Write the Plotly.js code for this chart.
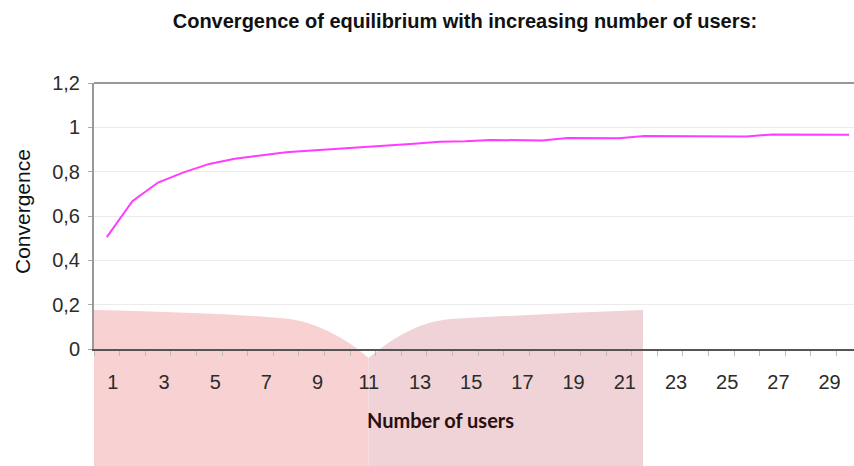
<!DOCTYPE html>
<html>
<head>
<meta charset="utf-8">
<script src="https://cdn.plot.ly/plotly-3.0.1.min.js"></script>
<style>html,body{margin:0;padding:0;background:#fff;}#chart{width:854px;height:466px;}</style>
</head>
<body>
<div id="chart"></div>
<script>
// ---- data ----
const users = ['1','2','3','4','5','6','7','8','9','10','11','12','13','14','15','16','17','18','19','20','21','22','23','24','25','26','27','28','29','30'];
const convergence = [0.505,0.667,0.751,0.797,0.835,0.858,0.873,0.888,0.896,0.903,0.911,0.919,0.926,0.935,0.937,0.943,0.943,0.941,0.952,0.952,0.951,0.961,0.960,0.960,0.959,0.959,0.968,0.968,0.968,0.967];
const xTickLabels = ['1','','3','','5','','7','','9','','11','','13','','15','','17','','19','','21','','23','','25','','27','','29',''];
const yTicks = [0,0.2,0.4,0.6,0.8,1,1.2];

// ---- layout geometry (pixels) ----
const W = 854, H = 466, L = 94, T = 83, B = 349;
const plotW = W - L, plotH = B - T;
const px = x => ((x - L) / plotW).toFixed(4);
const py = y => ((B - y) / plotH).toFixed(4);
const P = (x, y) => px(x) + ',' + py(y);

const leftBlob = 'M' + P(94,466) + ' L' + P(94,310) + ' Q' + P(230,313) + ' ' + P(290,319) +
  ' C' + P(310,322) + ' ' + P(340,333) + ' ' + P(368.5,358) + ' L' + P(368.5,466) + ' Z';
const rightBlob = 'M' + P(368.5,466) + ' L' + P(368.5,358) + ' C' + P(395,336) + ' ' + P(420,322) + ' ' + P(450,319) +
  ' Q' + P(560,313) + ' ' + P(643,310) + ' L' + P(643,466) + ' Z';

const trace = {
  x: users, y: convergence, type: 'scatter', mode: 'lines',
  line: {color: '#ff3cff', width: 2}, hoverinfo: 'skip'
};

const layout = {
  width: W, height: H,
  margin: {l: L, r: 0, t: T, b: H - B, pad: 0},
  paper_bgcolor: '#ffffff',
  plot_bgcolor: 'rgba(0,0,0,0)',
  separators: ', ',
  showlegend: false,
  font: {family: 'Liberation Sans, Arial, sans-serif', color: '#333333'},
  title: {
    text: 'Convergence of equilibrium with increasing number of users:',
    font: {family: 'Liberation Sans, Arial, sans-serif', size: 20, color: '#111111', weight: 'bold'},
    xref: 'container', yref: 'container', x: 465 / W, y: 1 - 21 / H, xanchor: 'center', yanchor: 'middle'
  },
  xaxis: {
    type: 'category',
    range: [-0.5, -0.5 + plotW / 25.6],
    tickmode: 'array', tickvals: users, ticktext: xTickLabels,
    tickangle: 0,
    tickson: 'boundaries', ticks: 'outside', ticklen: 5, tickcolor: '#bbbbbb', tickwidth: 1,
    ticklabelshift: 6, ticklabelstandoff: 14,
    tickfont: {size: 20, color: '#2b2b2b'},
    showgrid: false, zeroline: false,
    showline: true, linecolor: '#555555', linewidth: 2,
    fixedrange: true
  },
  yaxis: {
    range: [0, 1.2],
    tickmode: 'array', tickvals: yTicks,
    tickformat: '.1~f',
    ticks: 'outside', ticklen: 4, tickcolor: '#aaaaaa', tickwidth: 1,
    ticklabelstandoff: 4,
    tickfont: {size: 20, color: '#2b2b2b'},
    showgrid: true, gridcolor: '#ebebeb', gridwidth: 1,
    zeroline: false,
    showline: true, linecolor: '#999999', linewidth: 2,
    fixedrange: true
  },
  shapes: [
    {type: 'path', xref: 'paper', yref: 'paper', path: leftBlob, fillcolor: '#f8d1d3', line: {width: 0}, layer: 'below'},
    {type: 'path', xref: 'paper', yref: 'paper', path: rightBlob, fillcolor: '#efd3d6', line: {width: 0}, layer: 'below'},
    {type: 'line', xref: 'paper', yref: 'paper', x0: 0, x1: 1, y0: 1, y1: 1, line: {color: '#999999', width: 2}}
  ],
  annotations: [
    {text: 'Convergence', xref: 'paper', yref: 'paper', x: px(22), y: py(212), textangle: -90,
     showarrow: false, xanchor: 'center', yanchor: 'middle',
     font: {family: 'Liberation Sans, Arial, sans-serif', size: 21, color: '#111111'}},
    {text: 'Number of users', xref: 'paper', yref: 'paper', x: px(440), y: py(420),
     showarrow: false, xanchor: 'center', yanchor: 'middle',
     font: {family: 'Lato, sans-serif', size: 20, color: '#2a0f10', weight: 'bold'}}
  ]
};

Plotly.newPlot('chart', [trace], layout, {staticPlot: true, displayModeBar: false});
</script>
</body>
</html>
